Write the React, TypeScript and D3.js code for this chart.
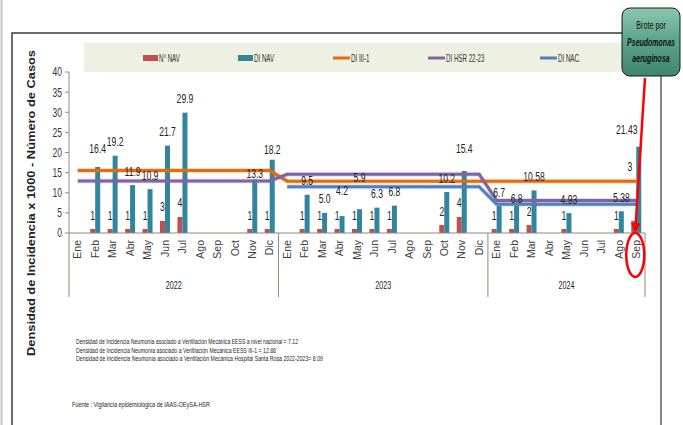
import React, { useEffect, useRef } from 'react';
import * as d3 from 'd3';

// meses y años del eje x
const months = ['Ene', 'Feb', 'Mar', 'Abr', 'May', 'Jun', 'Jul', 'Ago', 'Sep', 'Oct', 'Nov', 'Dic'];
const years = ['2022', '2023', '2024'];
const monthsPerYear = [12, 12, 9];

// N° NAV (número de casos)
const numNav = [
  null, 1, 1, 1, 1, 3, 4, null, null, null, 1, 1,
  null, 1, 1, 1, 1, 1, 1, null, null, 2, 4, null,
  1, 1, 2, null, 1, null, null, 1, 3,
];
// DI NAV (densidad de incidencia)
const diNav = [
  null, 16.4, 19.2, 11.9, 10.9, 21.7, 29.9, null, null, null, 13.3, 18.2,
  null, 9.5, 5.0, 4.2, 5.9, 6.3, 6.8, null, null, 10.2, 15.4, null,
  6.7, 6.8, 10.58, null, 4.93, null, null, 5.38, 21.43,
];
// DI III-1
const diIII1 = [
  15.5, 15.5, 15.5, 15.5, 15.5, 15.5, 15.5, 15.5, 15.5, 15.5, 15.5, 15.5,
  12.88, 12.88, 12.88, 12.88, 12.88, 12.88, 12.88, 12.88, 12.88, 12.88, 12.88, 12.88,
  12.88, 12.88, 12.88, 12.88, 12.88, 12.88, 12.88, 12.88, 12.88,
];
// DI HSR 22-23
const diHsr = [
  12.9, 12.9, 12.9, 12.9, 12.9, 12.9, 12.9, 12.9, 12.9, 12.9, 12.9, 12.9,
  14.6, 14.6, 14.6, 14.6, 14.6, 14.6, 14.6, 14.6, 14.6, 14.6, 14.6, 14.6,
  8.09, 8.09, 8.09, 8.09, 8.09, 8.09, 8.09, 8.09, 8.09,
];
// DI NAC.
const diNac = [
  null, null, null, null, null, null, null, null, null, null, null, null,
  11.5, 11.5, 11.5, 11.5, 11.5, 11.5, 11.5, 11.5, 11.5, 11.5, 11.5, 11.5,
  7.12, 7.12, 7.12, 7.12, 7.12, 7.12, 7.12, 7.12, 7.12,
];
const yTicks = [0, 5, 10, 15, 20, 25, 30, 35, 40];

const notes = [
  'Densidad de Incidencia Neumonía asociado a Ventilación Mecánica EESS a nivel nacional = 7.12',
  'Densidad de Incidencia Neumonía asociado a Ventilación Mecánica EESS III-1 = 12.88',
  'Densidad de Incidencia Neumonía asociado a Ventilación Mecánica Hospital Santa Rosa 2022-2023= 8.09',
];
const source = 'Fuente : Vigilancia epidemiológica de IAAS-OEySA-HSR';

// ajustes manuales de etiquetas (dx, dy en px), como en el Excel original
const diLabelShift: Record<number, [number, number]> = {
  1: [0, -5], 10: [0, 8], 11: [0, 4], 15: [0, -12], 16: [0, -18], 22: [0, -9], 25: [0, 7], 32: [-12, -3],
};
const numLabelShift: Record<number, [number, number]> = { 32: [-4, -40] };

const RED = '#c0504d';
const TEAL = '#31859c';
const ORANGE = '#e46c0a';
const PURPLE = '#8064a2';
const BLUE = '#4f81bd';
const SANS = '"Liberation Sans", Arial, sans-serif';

type G = d3.Selection<SVGGElement, unknown, null, undefined>;

// texto estrecho (tipo Calibri comprimido): escala horizontal
function narrow(g: G, x: number, y: number, txt: string | number, size: number, sx: number, anchor = 'middle') {
  return g.append('text')
    .attr('transform', `translate(${x},${y}) scale(${sx},1)`)
    .attr('dy', '0.35em')
    .attr('text-anchor', anchor)
    .attr('font-family', SANS)
    .attr('font-size', size)
    .text(txt);
}

function App() {
  const ref = useRef<SVGSVGElement>(null);

  useEffect(() => {
    const svg = d3.select(ref.current);
    svg.selectAll('*').remove();

    const W = 683, H = 425;
    const left = 69, right = 645, top = 72, bottom = 233;

    const labels: string[] = [];
    years.forEach((y, yi) => {
      for (let m = 0; m < monthsPerYear[yi]; m++) labels.push(months[m] + ' ' + y);
    });
    const idx = labels.map((_, i) => i);

    const x = d3.scaleBand<number>().domain(idx).range([left, right]).padding(0);
    const bw = x.bandwidth();
    const cx = (i: number) => (x(i) as number) + bw / 2;
    const y = d3.scaleLinear().domain([0, 40]).range([bottom, top]);

    const defs = svg.append('defs');
    const grad = defs.append('linearGradient').attr('id', 'calloutGrad').attr('x1', 0).attr('y1', 0).attr('x2', 0).attr('y2', 1);
    grad.append('stop').attr('offset', '0%').attr('stop-color', '#8cc8b2');
    grad.append('stop').attr('offset', '45%').attr('stop-color', '#5ea58d');
    grad.append('stop').attr('offset', '100%').attr('stop-color', '#3d866d');
    defs.append('marker').attr('id', 'arrowRed').attr('viewBox', '0 0 10 10').attr('refX', 8).attr('refY', 5)
      .attr('markerWidth', 4).attr('markerHeight', 4).attr('orient', 'auto')
      .append('path').attr('d', 'M0,0 L10,5 L0,10 z').attr('fill', '#ff0000');

    svg.append('rect').attr('width', W).attr('height', H).attr('fill', '#fff');
    svg.append('line').attr('x1', 1.5).attr('x2', 1.5).attr('y1', 0).attr('y2', H).attr('stroke', '#c4c4c4').attr('stroke-width', 2);

    // marco
    svg.append('path').attr('d', `M12,${H} L12,33 L622,33`).attr('fill', 'none').attr('stroke', '#3a3a3a').attr('stroke-width', 1.5);
    svg.append('line').attr('x1', 661).attr('x2', 661).attr('y1', 76).attr('y2', H).attr('stroke', '#3a3a3a').attr('stroke-width', 1.2);

    // leyenda
    svg.append('rect').attr('x', 84).attr('y', 43).attr('width', 538).attr('height', 29).attr('fill', '#eef0e1');
    const legend = [
      { name: 'N° NAV', color: RED, kind: 'bar', x: 143 },
      { name: 'DI NAV', color: TEAL, kind: 'bar', x: 238 },
      { name: 'DI III-1', color: ORANGE, kind: 'line', x: 333 },
      { name: 'DI HSR 22-23', color: PURPLE, kind: 'line', x: 428 },
      { name: 'DI NAC.', color: BLUE, kind: 'line', x: 540 },
    ];
    const lg = svg.append('g').attr('fill', '#333');
    legend.forEach((d) => {
      if (d.kind === 'bar') {
        lg.append('rect').attr('x', d.x).attr('y', 55).attr('width', 15).attr('height', 6).attr('fill', d.color);
      } else {
        lg.append('line').attr('x1', d.x).attr('x2', d.x + 17).attr('y1', 58).attr('y2', 58)
          .attr('stroke', d.color).attr('stroke-width', 3);
      }
      narrow(lg, d.x + (d.kind === 'bar' ? 16 : 18), 58, d.name, 10, 0.62, 'start');
    });

    // eje y
    svg.append('line').attr('x1', left).attr('x2', left).attr('y1', top).attr('y2', bottom).attr('stroke', '#8c8c8c');
    const yg = svg.append('g').attr('fill', '#333');
    yTicks.forEach((t) => {
      yg.append('line').attr('x1', left - 4).attr('x2', left).attr('y1', y(t)).attr('y2', y(t)).attr('stroke', '#8c8c8c');
      narrow(yg, left - 7, y(t), t, 12.5, 0.68, 'end');
    });
    svg.append('text').attr('transform', `translate(35,203) rotate(-90)`).attr('text-anchor', 'middle')
      .attr('font-family', SANS).attr('font-weight', 'bold').attr('font-size', 11.5)
      .attr('textLength', 306).attr('lengthAdjust', 'spacingAndGlyphs')
      .attr('fill', '#222').text('Densidad de Incidencia x 1000 - Número de Casos');

    // barras
    const bars = svg.append('g');
    idx.forEach((i) => {
      const n = numNav[i];
      const v = diNav[i];
      if (n != null) {
        bars.append('rect').attr('x', cx(i) - 5).attr('y', y(n)).attr('width', 5).attr('height', bottom - y(n)).attr('fill', RED);
      }
      if (v != null) {
        bars.append('rect').attr('x', cx(i)).attr('y', y(v)).attr('width', 5).attr('height', bottom - y(v)).attr('fill', TEAL);
      }
    });

    // líneas de referencia
    const lineGen = d3.line<number | null>()
      .defined((d) => d != null)
      .x((_, i) => cx(i))
      .y((d) => y(d as number));
    [
      { data: diIII1, color: ORANGE },
      { data: diHsr, color: PURPLE },
      { data: diNac, color: BLUE },
    ].forEach((s) => {
      svg.append('path').attr('d', lineGen(s.data)).attr('fill', 'none').attr('stroke', s.color)
        .attr('stroke-opacity', 0.22).attr('stroke-width', 5);
      svg.append('path').attr('d', lineGen(s.data)).attr('fill', 'none').attr('stroke', s.color).attr('stroke-width', 3);
    });

    // etiquetas de datos
    const fmt = (v: number) => (Math.round(v * 10) === v * 10 ? v.toFixed(1) : String(v));
    const lab = svg.append('g').attr('fill', '#222');
    idx.forEach((i) => {
      const n = numNav[i];
      const v = diNav[i];
      if (v != null) {
        const [dx, dy] = diLabelShift[i] || [0, 0];
        narrow(lab, cx(i) + 2.5 + dx, y(v) - 14 + dy, fmt(v), 13, 0.66);
      }
      if (n != null) {
        const [dx, dy] = numLabelShift[i] || [0, 0];
        narrow(lab, cx(i) - 2.5 + dx, y(n) - 14 + dy, n, 13, 0.66);
      }
    });

    // eje x
    svg.append('line').attr('x1', left).attr('x2', right).attr('y1', bottom).attr('y2', bottom).attr('stroke', '#8c8c7a').attr('stroke-width', 1.2);
    const xg = svg.append('g');
    idx.forEach((i) => {
      xg.append('text').attr('transform', `translate(${cx(i)},240) rotate(-90)`).attr('text-anchor', 'end').attr('dy', '0.35em')
        .attr('font-family', SANS).attr('font-size', 10.5).attr('fill', '#404040')
        .text(months[i % 12]);
    });
    const yrG = xg.append('g').attr('fill', '#222');
    let start = 0;
    years.forEach((yr, yi) => {
      const end = start + monthsPerYear[yi];
      const x0 = x(start) as number;
      const x1 = end >= idx.length ? right : (x(end) as number);
      xg.append('line').attr('x1', x0).attr('x2', x0).attr('y1', bottom).attr('y2', 297).attr('stroke', '#8c8c7a');
      narrow(yrG, (x0 + x1) / 2, 285, yr, 11.5, 0.62);
      start = end;
    });
    xg.append('line').attr('x1', right).attr('x2', right).attr('y1', bottom).attr('y2', 297).attr('stroke', '#8c8c7a');

    // notas
    const notesG = svg.append('g').attr('font-family', SANS).attr('font-size', 7.5).attr('fill', '#1e1e1e');
    const noteLen = [222, 200, 247];
    notes.forEach((t, i) => {
      notesG.append('text').attr('x', 76).attr('y', 344 + i * 8.5).attr('textLength', noteLen[i])
        .attr('lengthAdjust', 'spacingAndGlyphs').text(t);
    });
    notesG.append('text').attr('x', 72).attr('y', 407).attr('textLength', 138)
      .attr('lengthAdjust', 'spacingAndGlyphs').text(source);

    // recuadro "Brote por Pseudomonas aeruginosa"
    svg.append('rect').attr('x', 622).attr('y', 8).attr('width', 58).attr('height', 68).attr('rx', 8)
      .attr('fill', 'url(#calloutGrad)').attr('stroke', '#1a1a1a').attr('stroke-width', 1);
    const cg = svg.append('g').attr('fill', '#111');
    narrow(cg, 651, 25, 'Brote por', 10, 0.72);
    narrow(cg, 651, 42, 'Pseudomonas', 10, 0.7).attr('font-weight', 'bold').attr('font-style', 'italic');
    narrow(cg, 651, 58, 'aeruginosa', 10, 0.7).attr('font-weight', 'bold').attr('font-style', 'italic');

    // flecha y óvalo rojos
    const last = idx.length - 1;
    svg.append('line').attr('x1', 645).attr('y1', 78).attr('x2', cx(last) - 1).attr('y2', bottom - 2)
      .attr('stroke', '#ff0000').attr('stroke-width', 2.5).attr('marker-end', 'url(#arrowRed)');
    svg.append('ellipse').attr('cx', cx(last) - 1).attr('cy', 255).attr('rx', 9).attr('ry', 22)
      .attr('fill', 'none').attr('stroke', '#ff0000').attr('stroke-width', 2.5);
  }, []);

  return (
    <svg ref={ref} width={683} height={425} style={{ position: 'absolute', left: 0, top: 0 }} />
  );
}

export default App;
